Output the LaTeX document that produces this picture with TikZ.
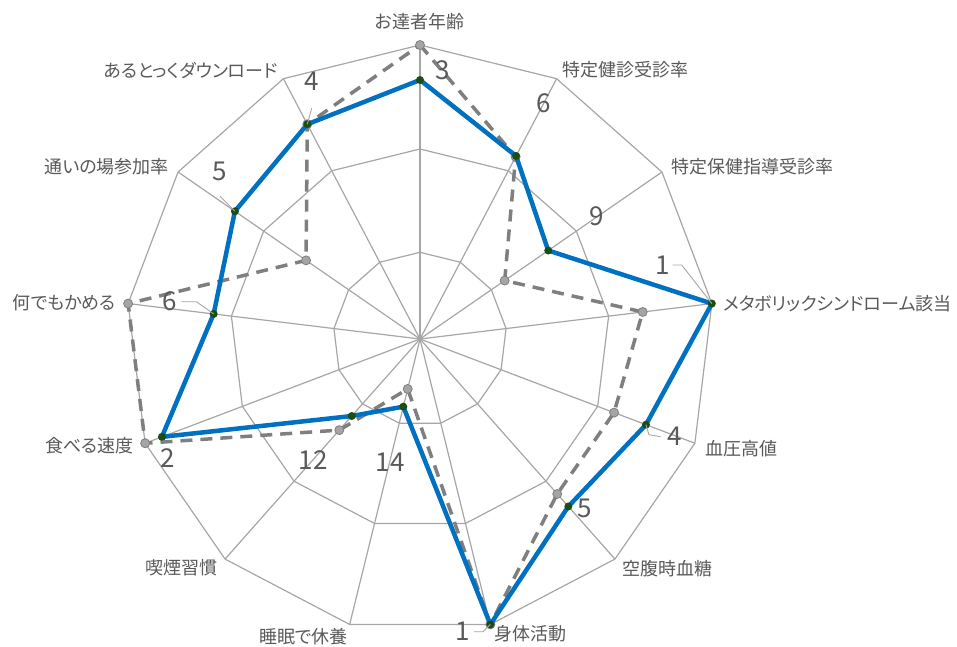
\documentclass[tikz,border=0pt]{standalone}
\usepackage{fontspec}
\setmainfont{Noto Sans CJK JP}[RawFeature=+palt]
\usetikzlibrary{positioning}
\definecolor{gridgray}{HTML}{A6A6A6}
\definecolor{txtgray}{HTML}{595959}
\definecolor{lineblue}{HTML}{0070C0}
\definecolor{dotgreen}{HTML}{1B4D14}
\definecolor{dashgray}{HTML}{7F7F7F}
\definecolor{markgray}{HTML}{A5A5A5}
\begin{document}
\begin{tikzpicture}[x=1pt,y=1pt,
		ringline/.style={draw=gridgray,line width=1.2pt},
		cat/.style={text=txtgray,font=\fontsize{18}{18}\selectfont,inner sep=0pt},
		rank/.style={text=txtgray,font=\fontsize{26}{26}\selectfont,inner sep=0pt},
		leader/.style={draw=gridgray,line width=0.9pt},
		bluepath/.style={draw=lineblue,line width=4.5pt,line join=round},
		graypath/.style={draw=dashgray,line width=3.5pt,dash pattern=on 12pt off 8pt},
		bdot/.style={circle,fill=dotgreen,inner sep=0pt,minimum size=8pt},
		gdot/.style={circle,fill=markgray,draw=dashgray,line width=0.8pt,inner sep=0pt,minimum size=9pt}
		]
		\useasboundingbox (0,0) rectangle (957,-646);
		% axes, rings and the two series
		\begin{scope}[shift={(420,-339)}]
			\coordinate (ctr) at (0,0);
			\foreach \k in {0,...,12}{
				\coordinate (ax\k) at ({90-\k*360/13}:294);
				\coordinate (md\k) at ({90-\k*360/13}:190);
				\coordinate (in\k) at ({90-\k*360/13}:86.7);
			}
			\foreach \k/\v in {0/0.881,1/0.703,2/0.530,3/1.0,4/0.822,5/0.761,6/1.0,
				7/0.237,8/0.35,9/0.939,10/0.707,11/0.765,12/0.825}
			\coordinate (b\k) at ({90-\k*360/13}:{294*\v});
			\foreach \k/\v in {0/1.0,1/0.70,2/0.35,3/0.763,4/0.706,5/0.704,6/1.0,
				7/0.175,8/0.414,9/1.0,10/1.0,11/0.471,12/0.825}
			\coordinate (g\k) at ({90-\k*360/13}:{294*\v});
		\end{scope}
		\foreach \r in {ax,md,in}
		\draw[ringline] (\r0) \foreach \k in {1,...,12}{ -- (\r\k)} -- cycle;
		\foreach \k in {0,...,12}
		\draw[ringline] (ctr) -- (ax\k);
		
		\draw[graypath] (g0) \foreach \k in {1,...,12}{ -- (g\k)} -- cycle;
		\foreach \k in {0,...,12}
		\node[gdot] (gd\k) at (g\k) {};
		\draw[bluepath] (b0) \foreach \k in {1,...,12}{ -- (b\k)} -- cycle;
		\foreach \k in {0,...,12}
		\node[bdot] (bd\k) at (b\k) {};
		
		% category labels
		\node[cat] (c0) at (420,-22) {お達者年齢};
		\node[cat,anchor=west] (c1) at (562,-70) {特定健診受診率};
		\node[cat,anchor=west] (c2) at (671,-167) {特定保健指導受診率};
		\node[cat,anchor=west] (c3) at (723,-304) {メタボリックシンドローム該当};
		\node[cat,anchor=west] (c4) at (705,-449) {血圧高値};
		\node[cat,anchor=west] (c5) at (622,-569) {空腹時血糖};
		\node[cat,anchor=west] (c6) at (494,-634) {身体活動};
		\node[cat,anchor=east] (c7) at (348,-637) {睡眠で休養};
		\node[cat,anchor=east] (c8) at (218,-568) {喫煙習慣};
		\node[cat,anchor=east] (c9) at (134,-446) {食べる速度};
		\node[cat,anchor=east] (c10) at (116,-303) {何でもかめる};
		\node[cat,anchor=east] (c11) at (169,-167) {通いの場参加率};
		\node[cat,anchor=east] (c12) at (278,-70) {あるとっくダウンロード};
		
		% rank labels
		\node[rank] (r0) at (442.7,-70) {3};
		\node[rank] (r1) at (543.3,-103) {6};
		\node[rank] (r2) at (596.7,-216.7) {9};
		\node[rank] (r3) at (662.3,-265) {1};
		\node[rank] (r4) at (675,-436.7) {4};
		\node[rank] (r5) at (585,-508.3) {5};
		\node[rank] (r6) at (462.7,-631.7) {1};
		\node[rank] (r7) at (390,-462.7) {14};
		\node[rank] (r8) at (313.3,-460) {12};
		\node[rank] (r9) at (167.7,-458.3) {2};
		\node[rank] (r10) at (170,-301.7) {6};
		\node[rank] (r11) at (220,-171.7) {5};
		\node[rank] (r12) at (311.7,-81.7) {4};
		\draw[leader] ([xshift=3pt]r3.east) -- ++(9,0) -- (b3);
		\draw[leader] (b4) -- ++(3,-10) -- ([xshift=-7pt]r4.west);
		\draw[leader] ([xshift=4pt]r6.east) -- ++(9,0) -- (b6);
		\draw[leader] ([xshift=4pt]r10.east) -- ++(15,0) -- (b10);
		\draw[leader] ([yshift=-15pt]r11.south) -- (b11);
		\draw[leader] ([yshift=-17pt]r12.south) -- (b12);
\end{tikzpicture}
\end{document}
